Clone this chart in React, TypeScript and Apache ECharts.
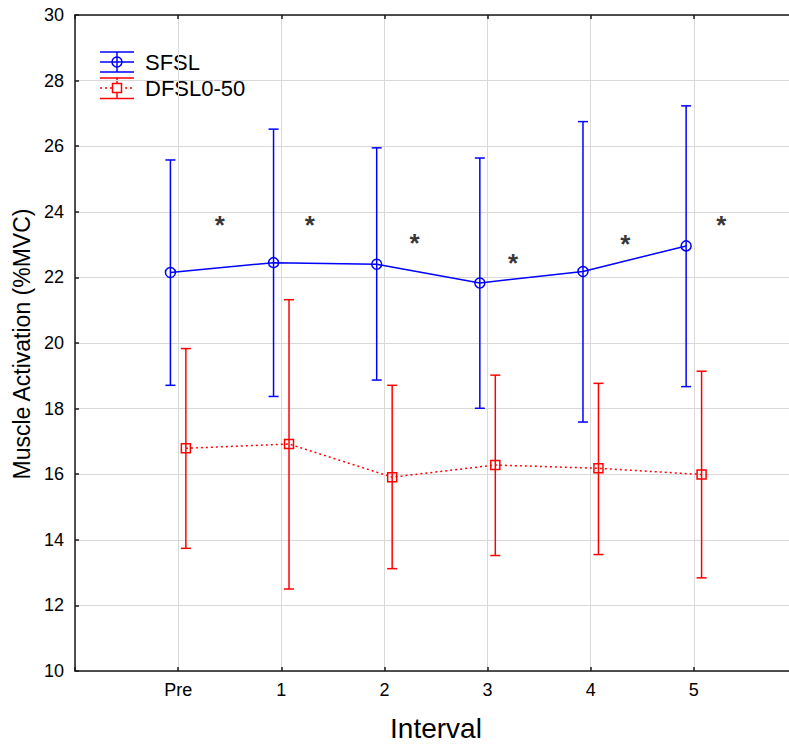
import React, { useEffect, useRef } from 'react';
import * as echarts from 'echarts';

const intervals = ['Pre', '1', '2', '3', '4', '5'];
const sfslMean = [22.15, 22.45, 22.4, 21.83, 22.18, 22.96];
const sfslUpper = [25.58, 26.52, 25.95, 25.64, 26.75, 27.23];
const sfslLower = [18.71, 18.37, 18.87, 18.01, 17.59, 18.67];
const dfslMean = [16.79, 16.92, 15.91, 16.28, 16.18, 15.99];
const dfslUpper = [19.83, 21.32, 18.71, 19.02, 18.77, 19.14];
const dfslLower = [13.74, 12.5, 13.12, 13.52, 13.55, 12.84];
const starX = [0.404, 1.276, 2.293, 3.246, 4.335, 5.266];
const starY = [23.77, 23.77, 23.22, 22.63, 23.21, 23.77];

const FONT = '"Liberation Sans", Arial, Helvetica, sans-serif';
const BLUE = '#0000ff';
const RED = '#ff0000';
const OFF = 0.075;

function errorBarRender(color: string) {
  return (params: any, api: any) => {
    const x = api.value(0);
    const lo = api.value(1);
    const hi = api.value(2);
    const pHi = api.coord([x, hi]);
    const pLo = api.coord([x, lo]);
    const hw = 5;
    const style = { stroke: color, lineWidth: 1.5 };
    return {
      type: 'group',
      children: [
        { type: 'line', shape: { x1: pHi[0], y1: pHi[1], x2: pLo[0], y2: pLo[1] }, style },
        { type: 'line', shape: { x1: pHi[0] - hw, y1: pHi[1], x2: pHi[0] + hw, y2: pHi[1] }, style },
        { type: 'line', shape: { x1: pLo[0] - hw, y1: pLo[1], x2: pLo[0] + hw, y2: pLo[1] }, style },
      ],
    };
  };
}

export default function App() {
  const ref = useRef<HTMLDivElement>(null);
  useEffect(() => {
    if (!ref.current) return;
    const chart = echarts.init(ref.current, null, { renderer: 'svg' });
    const axisLine = { show: true, onZero: false, lineStyle: { color: '#1a1a1a', width: 1.5 } };
    const tick = { show: true, inside: true, length: 4, lineStyle: { color: '#1a1a1a', width: 1.5 } };
    const option: any = {
      animation: false,
      backgroundColor: '#ffffff',
      grid: { left: 75, right: -8, top: 15, bottom: 73, containLabel: false, outerBoundsMode: 'none' },
      xAxis: [
        {
          type: 'value',
          min: -1,
          max: 6,
          interval: 1,
          position: 'bottom',
          axisLine,
          axisTick: tick,
          axisLabel: {
            margin: 10,
            fontSize: 18,
            fontFamily: FONT,
            color: '#000',
            formatter: (v: number) => (v >= 0 && v < intervals.length ? intervals[v] : ''),
          },
          splitLine: { show: true, lineStyle: { color: '#d9d9d9', width: 1 } },
        },
        {
          type: 'value',
          min: -1,
          max: 6,
          interval: 1,
          position: 'top',
          axisLine,
          axisTick: tick,
          axisLabel: { show: false },
          splitLine: { show: false },
        },
      ],
      yAxis: {
        type: 'value',
        min: 10,
        max: 30,
        interval: 2,
        position: 'left',
        axisLine,
        axisTick: tick,
        axisLabel: { margin: 11, fontSize: 18, fontFamily: FONT, color: '#000' },
        splitLine: { show: true, lineStyle: { color: '#d9d9d9', width: 1 } },
      },
      series: [
        {
          type: 'custom',
          name: 'DFSL0-50 err',
          renderItem: errorBarRender(RED),
          data: dfslMean.map((_, i) => [i + OFF, dfslLower[i], dfslUpper[i]]),
          encode: { x: 0, y: [1, 2] },
          z: 2,
        },
        {
          type: 'line',
          name: 'DFSL0-50',
          data: dfslMean.map((v, i) => [i + OFF, v]),
          symbol: 'rect',
          symbolSize: 9,
          itemStyle: { color: 'rgba(0,0,0,0)', borderColor: RED, borderWidth: 1.5 },
          lineStyle: { color: RED, width: 1.5, type: [2, 3] },
          z: 3,
        },
        {
          type: 'custom',
          name: 'SFSL err',
          renderItem: errorBarRender(BLUE),
          data: sfslMean.map((_, i) => [i - OFF, sfslLower[i], sfslUpper[i]]),
          encode: { x: 0, y: [1, 2] },
          z: 4,
        },
        {
          type: 'line',
          name: 'SFSL',
          data: sfslMean.map((v, i) => [i - OFF, v]),
          symbol: 'circle',
          symbolSize: 10,
          itemStyle: { color: 'rgba(0,0,0,0)', borderColor: BLUE, borderWidth: 1.5 },
          lineStyle: { color: BLUE, width: 1.5 },
          z: 5,
        },
        {
          type: 'scatter',
          name: 'sig',
          data: starX.map((x, i) => [x, starY[i]]),
          symbolSize: 1,
          itemStyle: { color: 'rgba(0,0,0,0)' },
          label: {
            show: true,
            formatter: '*',
            position: 'inside',
            offset: [0, 6],
            fontSize: 26,
            fontWeight: 'bold',
            fontFamily: FONT,
            color: '#000',
          },
          z: 6,
        },
      ],
      graphic: [
        { type: 'line', shape: { x1: 100, y1: 52, x2: 134, y2: 52 }, style: { stroke: BLUE, lineWidth: 1.5 } },
        { type: 'line', shape: { x1: 100, y1: 62, x2: 134, y2: 62 }, style: { stroke: BLUE, lineWidth: 1.5 } },
        { type: 'line', shape: { x1: 100, y1: 72, x2: 134, y2: 72 }, style: { stroke: BLUE, lineWidth: 1.5 } },
        { type: 'line', shape: { x1: 117, y1: 52, x2: 117, y2: 72 }, style: { stroke: BLUE, lineWidth: 1.5 } },
        { type: 'circle', shape: { cx: 117, cy: 62, r: 5 }, style: { fill: 'none', stroke: BLUE, lineWidth: 1.5 } },
        {
          type: 'text',
          x: 145,
          y: 62,
          style: { text: 'SFSL', fontSize: 22, fontFamily: FONT, fill: '#000', align: 'left', verticalAlign: 'middle' },
        },
        { type: 'line', shape: { x1: 100, y1: 78, x2: 134, y2: 78 }, style: { stroke: RED, lineWidth: 1.5 } },
        { type: 'line', shape: { x1: 100, y1: 88, x2: 134, y2: 88 }, style: { stroke: RED, lineWidth: 1.5, lineDash: [2, 3] } },
        { type: 'line', shape: { x1: 100, y1: 98.5, x2: 134, y2: 98.5 }, style: { stroke: RED, lineWidth: 1.5 } },
        { type: 'line', shape: { x1: 117, y1: 78, x2: 117, y2: 98.5 }, style: { stroke: RED, lineWidth: 1.5 } },
        { type: 'rect', shape: { x: 112.5, y: 83.5, width: 9, height: 9 }, style: { fill: '#fff', stroke: RED, lineWidth: 1.5 } },
        {
          type: 'text',
          x: 145,
          y: 88,
          style: { text: 'DFSL0-50', fontSize: 22, fontFamily: FONT, fill: '#000', align: 'left', verticalAlign: 'middle' },
        },
        {
          type: 'text',
          x: 436,
          y: 728,
          style: { text: 'Interval', fontSize: 28, fontFamily: FONT, fill: '#000', align: 'center', verticalAlign: 'middle' },
        },
        {
          type: 'text',
          x: 22,
          y: 344,
          rotation: Math.PI / 2,
          style: {
            text: 'Muscle Activation (%MVC)',
            fontSize: 23,
            fontFamily: FONT,
            fill: '#000',
            align: 'center',
            verticalAlign: 'middle',
          },
        },
      ],
    };
    chart.setOption(option);
    return () => chart.dispose();
  }, []);
  return (
    <div
      ref={ref}
      style={{ position: 'fixed', left: 0, top: 0, width: 789, height: 744, overflow: 'hidden' }}
    />
  );
}
